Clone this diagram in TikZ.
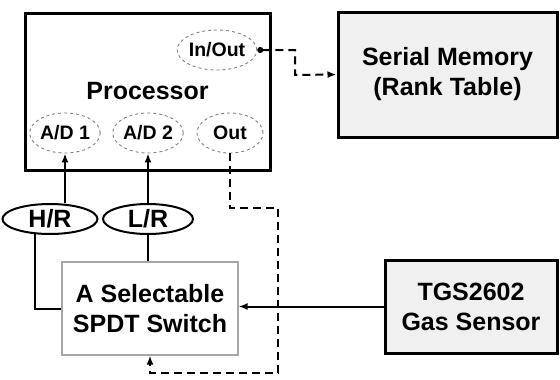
\documentclass[tikz,border=0pt]{standalone}
\usepackage{fontspec}
\setmainfont{Liberation Sans}
\usetikzlibrary{arrows.meta,shapes.geometric}

\begin{document}
\begin{tikzpicture}[x=1pt,y=-1pt,
        bigbox/.style={draw,line width=3pt,align=center,inner sep=0pt,font=\bfseries\fontsize{25}{30}\selectfont},
        shadebox/.style={bigbox,fill=gray!12},
        port/.style={ellipse,draw=gray,dashed,line width=0.9pt,minimum height=40pt,inner sep=0pt,font=\bfseries\fontsize{19.5}{20}\selectfont},
        tag/.style={ellipse,draw,line width=2pt,minimum height=30pt,inner sep=0pt,font=\bfseries\fontsize{25}{26}\selectfont},
        wire/.style={line width=2pt},
        feed/.style={wire,-{Latex[length=9pt,width=7pt]}},
        link/.style={line width=2pt,dash pattern=on 8pt off 5pt}]
    \useasboundingbox (0,0) rectangle (560,380);
    % boxes
    \node (proc) at (147.5,91.5) [bigbox,minimum width=245pt,minimum height=157pt] {Processor};
    \node (mem) at (447.5,74.5) [shadebox,minimum width=219pt,minimum height=125pt] {Serial Memory\\(Rank Table)};
    \node (sensor) at (471,306.5) [shadebox,minimum width=172pt,minimum height=93pt] {TGS2602\\Gas Sensor};
    \node (sw) at (150,308.5) [bigbox,draw=gray!70,line width=1.2pt,minimum width=176pt,minimum height=93pt] {A Selectable\\SPDT Switch};
    % ports of the processor
    \node (inout) at (217,50) [port,minimum width=70pt] {In/Out};
    \node (ad1) at (65,133) [port,minimum width=62pt] {A/D 1};
    \node (ad2) at (148,133) [port,minimum width=70pt] {A/D 2};
    \node (out) at (230,133) [port,minimum width=66pt] {Out};
    % resistor tags
    \node (hr) at (50,219) [tag,minimum width=95pt] {H/R};
    \node (lr) at (148,219) [tag,minimum width=90pt] {L/R};
    \coordinate (bendA) at (278,208);
    \coordinate (bendB) at (150,373);
    \coordinate (bendC) at (295,75);
    % connections
    \draw[feed] (ad1.south |- hr.north) -- (ad1.south);
    \draw[feed] (lr.north) -- (ad2.south);
    \draw[wire] (hr.225) |- (sw.west);
    \draw[wire] (lr.south) -- (lr.south |- sw.north);
    \draw[feed] (sensor.west) -- (sensor.west -| sw.east);
    \draw[link,-{Latex[length=9pt,width=7pt]}] (out.south) |- (bendA) |- (bendB) -- (sw.south);
    \draw[link,{Circle[length=6pt]}-{Latex[length=9pt,width=7pt]}] (inout.east) -| (bendC) -- (mem.west);
\end{tikzpicture}
\end{document}
